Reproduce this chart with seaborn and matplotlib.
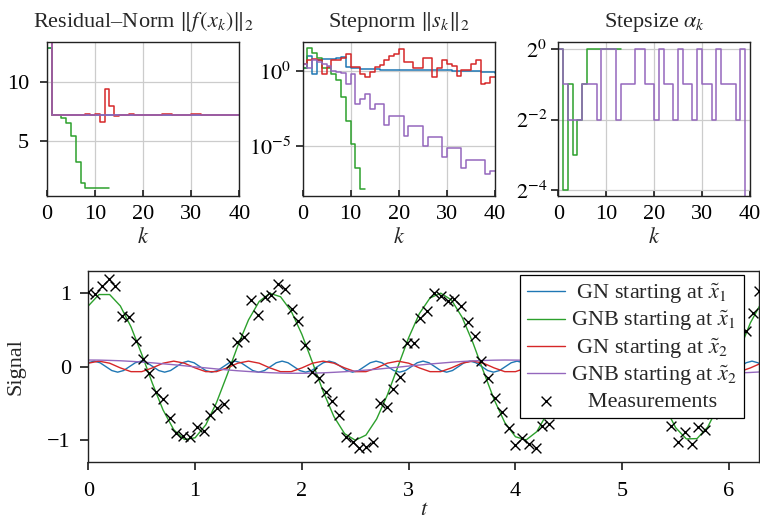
import numpy as np
import matplotlib
matplotlib.use('Agg')
import matplotlib.pyplot as plt
import seaborn as sns

# ---- top row: iteration histories (k = 0..40) ----
k_long = np.arange(41)
k_short = np.arange(14)

# residual norm ||f(x_k)||_2
res_gn1 = [12.9, 7.25, 7.25, 7.25, 7.25, 7.25, 7.25, 7.25, 7.25, 7.25, 7.25,
           7.25, 7.25, 7.25, 7.25, 7.25, 7.25, 7.25, 7.25, 7.25, 7.25, 7.25,
           7.25, 7.25, 7.25, 7.25, 7.25, 7.25, 7.25, 7.25, 7.25, 7.25, 7.25,
           7.25, 7.25, 7.25, 7.25, 7.25, 7.25, 7.25, 7.25]
res_gnb1 = [12.9, 7.25, 7.25, 7.0, 6.5, 5.4, 3.2, 1.45, 0.97, 0.97, 0.97, 0.97, 0.97, 0.97]
res_gn2 = [13.6, 7.25, 7.25, 7.25, 7.25, 7.25, 7.25, 7.25, 7.3, 7.25, 7.3,
           6.65, 9.4, 8.0, 7.13, 7.2, 7.25, 7.3, 7.25, 7.25, 7.25, 7.25,
           7.25, 7.25, 7.3, 7.3, 7.25, 7.25, 7.25, 7.25, 7.3, 7.3, 7.25,
           7.25, 7.25, 7.25, 7.25, 7.25, 7.25, 7.25, 7.25]
res_gnb2 = [13.6, 7.22, 7.22, 7.22, 7.22, 7.22, 7.22, 7.22, 7.22, 7.22, 7.22,
            7.22, 7.22, 7.22, 7.22, 7.22, 7.22, 7.22, 7.22, 7.22, 7.22, 7.22,
            7.22, 7.22, 7.22, 7.22, 7.22, 7.22, 7.22, 7.22, 7.22, 7.22, 7.22,
            7.22, 7.22, 7.22, 7.22, 7.22, 7.22, 7.22, 7.22]

# step norm ||s_k||_2, given as log10 of the value
step_gn1_exp = [0.18, 1.03, -0.22, 0.74, 0.78, 0.78, 0.82, 0.85, 0.96, 0.29, 0.18,
                0.18, 0.16, 0.13, 0.12, 0.12, 0.11, 0.11, 0.11, 0.11, 0.10, 0.10,
                0.09, 0.09, 0.08, 0.08, 0.07, 0.07, 0.06, 0.05, 0.05, 0.04, 0.03,
                0.02, 0.01, 0.0, -0.02, -0.04, -0.06, -0.08, -0.10]
step_gnb1_exp = [0.18, 1.52, 1.18, 0.89, 0.18, 0.18, -0.22, -0.60, -1.75, -3.3,
                 -4.84, -6.41, -7.86, -7.86]
step_gn2_exp = [0.45, 0.74, 0.80, 0.74, -0.22, 0.29, 0.74, 0.74, 0.85, 1.12, 0.29,
                0.29, -0.22, -0.38, -0.04, 0.29, 0.40, 0.74, 1.03, 1.12, 1.47, 0.63,
                0.63, 0.18, 0.18, 0.85, 0.85, -0.38, 0.22, 0.74, 0.51, 0.36, -0.33,
                0.07, 0.11, 0.45, 0.74, -0.83, -0.78, -0.38, -0.38]
step_gnb2_exp = [0.45, 0.18, 0.74, 0.63, 0.51, 0.36, 0.0, -0.04, -0.09, -0.83, -0.16,
                 -2.17, -1.83, -1.5, -2.5, -2.17, -2.17, -3.57, -2.95, -2.95, -2.95,
                 -4.29, -3.66, -3.66, -3.66, -5.0, -4.40, -4.40, -4.40, -5.74, -5.13,
                 -5.13, -5.13, -6.45, -5.89, -5.89, -5.89, -5.89, -6.85, -6.63, -6.63]

# step size alpha_k, given as log2 of the value
alpha_gnb1_exp = [0, -4, -1, -3, -2, -1, 0, 0, 0, 0, 0, 0, 0, 0]
alpha_gnb2_exp = [0, -1, -2, -2, -2, -1, -1, -1, -2, 0, 0, 0, -2, -1, -1, -1, 0, 0,
                  -1, -1, -2, 0, -1, -1, -2, 0, -1, -1, -2, 0, -1, -1, -2, 0, -1,
                  -1, -1, -2, 0, -8, -8]

# ---- bottom: fitted signals and measurements ----
t_curve = np.arange(64) * 0.1
sig_gnb1 = [0.825, 0.980, 0.980, 0.825, 0.540, 0.170, -0.227, -0.589, -0.857, -0.990,
            -0.967, -0.791, -0.490, -0.112, 0.284, 0.635, 0.886, 0.997, 0.950, 0.754,
            0.439, 0.054, -0.340, -0.679, -0.911, -1.000, -0.930, -0.711, -0.386, 0.004,
            0.394, 0.721, 0.934, 0.999, 0.907, 0.672, 0.331, -0.063, -0.447, -0.760,
            -0.953, -0.996, -0.883, -0.627, -0.276, 0.121, 0.499, 0.797, 0.969, 0.989,
            0.853, 0.582, 0.219, -0.178, -0.547, -0.830, -0.982, -0.978, -0.821, -0.533,
            -0.161, 0.235, 0.596, 0.862]
sig_gn2 = [0.047, 0.075, 0.047, -0.017, -0.068, -0.068, -0.017,
           0.047, 0.075, 0.047, -0.017, -0.068, -0.068, -0.017,
           0.047, 0.075, 0.047, -0.017, -0.068, -0.068, -0.017,
           0.047, 0.075, 0.047, -0.017, -0.068, -0.068, -0.017,
           0.047, 0.075, 0.047, -0.017, -0.068, -0.068, -0.017,
           0.047, 0.075, 0.047, -0.017, -0.068, -0.068, -0.017,
           0.047, 0.075, 0.047, -0.017, -0.068, -0.068, -0.017,
           0.047, 0.075, 0.047, -0.017, -0.068, -0.068, -0.017,
           0.047, 0.075, 0.047, -0.017, -0.068, -0.068, -0.017,
           0.047]
sig_gnb2 = [0.090, 0.089, 0.085, 0.080, 0.072, 0.063, 0.052, 0.039, 0.026, 0.012,
            -0.003, -0.017, -0.031, -0.044, -0.056, -0.066, -0.075, -0.082, -0.087, -0.090,
            -0.090, -0.088, -0.084, -0.077, -0.069, -0.059, -0.047, -0.035, -0.021, -0.007,
            0.008, 0.022, 0.036, 0.048, 0.060, 0.070, 0.078, 0.084, 0.088, 0.090,
            0.089, 0.087, 0.082, 0.074, 0.065, 0.055, 0.043, 0.030, 0.016, 0.001,
            -0.013, -0.027, -0.041, -0.053, -0.064, -0.073, -0.080, -0.086, -0.089, -0.090,
            -0.089, -0.085, -0.079, -0.071]
t_fine = np.arange(116) * 0.055
sig_gn1 = [0.053, 0.075, 0.053, 0.0, -0.053, -0.075, -0.053, 0.0,
           0.053, 0.075, 0.053, 0.0, -0.053, -0.075, -0.053, 0.0,
           0.053, 0.075, 0.053, 0.0, -0.053, -0.075, -0.053, 0.0,
           0.053, 0.075, 0.053, 0.0, -0.053, -0.075, -0.053, 0.0,
           0.053, 0.075, 0.053, 0.0, -0.053, -0.075, -0.053, 0.0,
           0.053, 0.075, 0.053, 0.0, -0.053, -0.075, -0.053, 0.0,
           0.053, 0.075, 0.053, 0.0, -0.053, -0.075, -0.053, 0.0,
           0.053, 0.075, 0.053, 0.0, -0.053, -0.075, -0.053, 0.0,
           0.053, 0.075, 0.053, 0.0, -0.053, -0.075, -0.053, 0.0,
           0.053, 0.075, 0.053, 0.0, -0.053, -0.075, -0.053, 0.0,
           0.053, 0.075, 0.053, 0.0, -0.053, -0.075, -0.053, 0.0,
           0.053, 0.075, 0.053, 0.0, -0.053, -0.075, -0.053, 0.0,
           0.053, 0.075, 0.053, 0.0, -0.053, -0.075, -0.053, 0.0,
           0.053, 0.075, 0.053, 0.0, -0.053, -0.075, -0.053, 0.0,
           0.053, 0.075, 0.053, 0.0]

t_meas = np.linspace(0, 2 * np.pi, 100)
y_meas = [1.02, 0.99, 1.09, 1.19, 1.10, 0.69, 0.68, 0.35, 0.11, -0.09,
          -0.35, -0.44, -0.70, -0.90, -0.94, -0.96, -0.82, -0.87, -0.66, -0.56,
          -0.51, 0.05, 0.34, 0.40, 0.91, 0.70, 0.95, 0.98, 1.13, 1.06,
          0.79, 0.62, 0.29, -0.07, -0.16, -0.35, -0.47, -0.66, -0.96, -1.02,
          -1.10, -1.09, -1.03, -0.50, -0.55, -0.30, -0.14, 0.32, 0.32, 0.66,
          0.75, 1.00, 0.96, 0.89, 0.92, 0.82, 0.61, 0.41, 0.07, -0.16,
          -0.43, -0.62, -0.84, -1.07, -0.97, -1.05, -1.10, -0.81, -0.78, -0.33,
          -0.10, 0.18, 0.40, 0.63, 0.77, 0.95, 1.02, 0.97, 0.91, 0.85,
          0.62, 0.45, 0.18, -0.06, -0.31, -0.55, -0.80, -1.03, -0.89, -1.05,
          -0.82, -0.86, -0.64, -0.50, -0.27, -0.05, 0.21, 0.48, 0.73, 1.03]

legend_labels = ['GN starting at $\\tilde{x}_1$', 'GNB starting at $\\tilde{x}_1$',
                 'GN starting at $\\tilde{x}_2$', 'GNB starting at $\\tilde{x}_2$',
                 'Measurements']

# ---- style ----
sns.set_theme(style='ticks')
plt.rcParams['font.family'] = ['Liberation Serif', 'DejaVu Serif']
plt.rcParams['mathtext.fontset'] = 'stix'
plt.rcParams['axes.edgecolor'] = '#222222'
plt.rcParams['axes.linewidth'] = 1.0
plt.rcParams['xtick.color'] = '#222222'
plt.rcParams['ytick.color'] = '#222222'
plt.rcParams['xtick.labelcolor'] = 'black'
plt.rcParams['ytick.labelcolor'] = 'black'
plt.rcParams['font.size'] = 16
fs = 16

pal = sns.color_palette('tab10')
c_gn1, c_gnb1, c_gn2, c_gnb2 = pal[0], pal[2], pal[3], pal[4]

fig = plt.figure(figsize=(7.6, 5.24), dpi=100)
W, H = 760.0, 524.0


def box(l, t, r, b):
    return [l / W, 1 - b / H, (r - l) / W, (b - t) / H]


ax_res = fig.add_axes(box(47, 42.3, 239.3, 196))
ax_step = fig.add_axes(box(302.5, 42.3, 495, 196))
ax_alpha = fig.add_axes(box(558.3, 42.3, 750, 196))
ax_sig = fig.add_axes(box(88.3, 271, 759.3, 462.3))

lw = 1.1
# residual
sns.lineplot(x=k_long, y=res_gn1, ax=ax_res, color=c_gn1, lw=lw, drawstyle='steps-post')
sns.lineplot(x=k_short, y=res_gnb1, ax=ax_res, color=c_gnb1, lw=lw, drawstyle='steps-post')
sns.lineplot(x=k_long, y=res_gn2, ax=ax_res, color=c_gn2, lw=lw, drawstyle='steps-post')
sns.lineplot(x=k_long, y=res_gnb2, ax=ax_res, color=c_gnb2, lw=lw, drawstyle='steps-post')
ax_res.set_ylim(0.31, 13.41)
ax_res.set_yticks([5, 10])

# step norm
sns.lineplot(x=k_long, y=10.0 ** np.array(step_gn1_exp), ax=ax_step, color=c_gn1, lw=lw, drawstyle='steps-post')
sns.lineplot(x=k_short, y=10.0 ** np.array(step_gnb1_exp), ax=ax_step, color=c_gnb1, lw=lw, drawstyle='steps-post')
sns.lineplot(x=k_long, y=10.0 ** np.array(step_gn2_exp), ax=ax_step, color=c_gn2, lw=lw, drawstyle='steps-post')
sns.lineplot(x=k_long, y=10.0 ** np.array(step_gnb2_exp), ax=ax_step, color=c_gnb2, lw=lw, drawstyle='steps-post')
ax_step.set_yscale('log')
ax_step.set_ylim(10 ** -8.3, 10 ** 1.92)
ax_step.set_yticks([1, 1e-5], [r'$10^{0}$', r'$10^{-5}$'])
ax_step.yaxis.set_minor_locator(matplotlib.ticker.NullLocator())

# step size
sns.lineplot(x=k_short, y=2.0 ** np.array(alpha_gnb1_exp), ax=ax_alpha, color=c_gnb1, lw=lw, drawstyle='steps-post')
sns.lineplot(x=k_long, y=2.0 ** np.array(alpha_gnb2_exp), ax=ax_alpha, color=c_gnb2, lw=lw, drawstyle='steps-post')
ax_alpha.set_yscale('log', base=2)
ax_alpha.set_ylim(2 ** -4.17, 2 ** 0.19)
ax_alpha.set_yticks([1, 0.25, 0.0625], [r'$2^{0}$', r'$2^{-2}$', r'$2^{-4}$'])
ax_alpha.yaxis.set_minor_locator(matplotlib.ticker.NullLocator())

titles = [r'Residual–Norm $\|f\,(x_k)\|_2$', r'Stepnorm $\|s_k\|_2$', r'Stepsize $\alpha_k$']
ypads = [8, 3, 3]
for ax, title, ypad in zip([ax_res, ax_step, ax_alpha], titles, ypads):
    ax.set_xlim(0, 40)
    ax.set_xticks([0, 10, 20, 30, 40])
    ax.grid(True, color='#cccccc', lw=0.9)
    ax.set_axisbelow(True)
    ax.set_title(title, fontsize=fs, pad=11)
    ax.set_xlabel('$k$', fontsize=fs, labelpad=3)
    ax.set_ylabel('')
    ax.tick_params(axis='x', direction='in', length=4, pad=6.5, labelsize=fs)
    ax.tick_params(axis='y', direction='out', length=5, pad=ypad, labelsize=fs)

# bottom signal panel
sns.lineplot(x=t_fine, y=sig_gn1, ax=ax_sig, color=c_gn1, lw=1.0, label=legend_labels[0])
sns.lineplot(x=t_curve, y=sig_gnb1, ax=ax_sig, color=c_gnb1, lw=1.0, label=legend_labels[1])
sns.lineplot(x=t_curve, y=sig_gn2, ax=ax_sig, color=c_gn2, lw=1.0, label=legend_labels[2])
sns.lineplot(x=t_curve, y=sig_gnb2, ax=ax_sig, color=c_gnb2, lw=1.0, label=legend_labels[3])
sns.scatterplot(x=t_meas, y=y_meas, ax=ax_sig, marker='x', color='black', s=50,
                linewidth=1.0, label=legend_labels[4], zorder=5)
ax_sig.set_xlim(0, 2 * np.pi)
ax_sig.set_ylim(-1.3, 1.3)
ax_sig.set_xticks([0, 1, 2, 3, 4, 5, 6])
ax_sig.set_yticks([-1, 0, 1])
ax_sig.set_xlabel('$t$', fontsize=fs, labelpad=0.5)
ax_sig.set_ylabel('Signal', fontsize=fs, labelpad=16)
ax_sig.tick_params(axis='x', direction='out', length=5.5, pad=8.5, labelsize=fs)
ax_sig.tick_params(axis='y', direction='out', length=5.5, pad=7, labelsize=fs)

handles, labels = ax_sig.get_legend_handles_labels()
pad_labels = [' ' + legend_labels[0], legend_labels[1], ' ' + legend_labels[2],
              legend_labels[3], '   ' + legend_labels[4]]
leg = ax_sig.legend(handles, pad_labels, loc='upper right',
                    bbox_to_anchor=((744 - 88.3) / 671.0, (462.3 - 275) / 191.3),
                    borderaxespad=0, fancybox=False, framealpha=1, edgecolor='black',
                    fontsize=fs, handlelength=1.71, handletextpad=0.3, labelspacing=0.14,
                    borderpad=0.3)
leg.get_frame().set_linewidth(0.9)

fig.savefig('out.png', dpi=100)
